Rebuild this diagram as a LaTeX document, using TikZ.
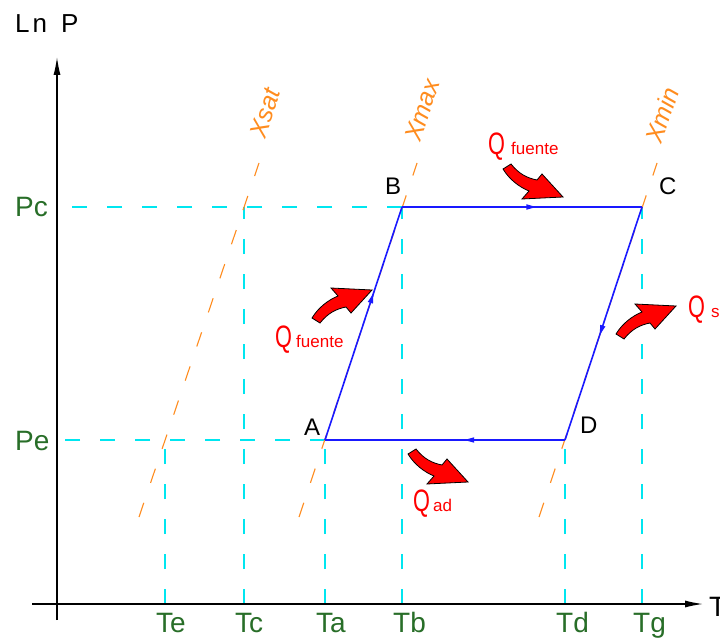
\documentclass[tikz,border=0pt]{standalone}
\usepackage{fontspec}
\setmainfont{Liberation Sans}
\newfontfamily\cadspaced[LetterSpace=12]{Liberation Sans}
\usetikzlibrary{arrows.meta,decorations.markings}
\definecolor{cadgreen}{RGB}{40,110,40}
\definecolor{cadcyan}{RGB}{0,230,240}
\definecolor{cadorange}{RGB}{255,140,30}
\definecolor{cadblue}{RGB}{25,25,255}
\definecolor{cadred}{RGB}{255,0,0}
\newcommand\cadfs[1]{\fontsize{#1}{#1}\selectfont}
\tikzset{
  qarrow/.pic={
    \filldraw[fill=cadred,draw=black,line width=0.8pt]
      (-4,1) -- (4,-4) .. controls (12,6) and (20,10) .. (30,12)
      -- (35,6) -- (56,29) -- (15,31) -- (22,23)
      .. controls (12,19) and (2,11) .. (-4,1) -- cycle;
  }
}
\begin{document}
\begin{tikzpicture}[x=1pt,y=-1pt,
  guide/.style={cadcyan,line width=1.3pt,dash pattern=on 15pt off 20pt},
  quality/.style={cadorange,line width=1.1pt,dash pattern=on 15pt off 21pt},
  cycleline/.style={cadblue,line width=1.6pt},
  axisline/.style={black,line width=1.3pt,-{Latex[length=18pt,width=7pt]}},
  axlab/.style={text=cadgreen,font={\cadfs{28}},anchor=base west,inner sep=0pt},
  ptlab/.style={text=black,font={\cadfs{24}},anchor=base west,inner sep=0pt},
  xlab/.style={text=cadorange,font={\cadfs{25}\itshape},rotate=71.7,inner sep=0pt},
  qbig/.style={text=cadred,font={\cadfs{31}},anchor=base west,inner sep=0pt},
  qsmall/.style={text=cadred,font={\cadfs{17}},anchor=base west,inner sep=0pt},
  midarrow/.style={postaction={decorate},decoration={markings,
     mark=at position #1 with {\arrow{Triangle[length=10pt,width=5pt]}}}}
]
\clip (0,0) rectangle (720,639);
\fill[white] (0,0) rectangle (720,639);

% key coordinates
\coordinate (O) at (57,604);
\coordinate (Ytop) at (57,57);
\coordinate (Ybot) at (57,620);
\coordinate (Xleft) at (32,604);
\coordinate (Xright) at (703,604);
\coordinate (A) at (325,440);
\coordinate (B) at (402,207);
\coordinate (C) at (642,207);
\coordinate (D) at (565,440);
\coordinate (E) at (165,440);
\coordinate (F) at (244,207);
\coordinate (PeA) at (57,440);
\coordinate (PcA) at (57,207);
\coordinate (Te) at (165,604);
\coordinate (Tc) at (244,604);
\coordinate (Ta) at (325,604);
\coordinate (Tb) at (402,604);
\coordinate (Td) at (565,604);
\coordinate (Tg) at (642,604);
% quality line ends
\coordinate (s1) at (139,517);
\coordinate (s2) at (259,163);
\coordinate (m1) at (299,517);
\coordinate (m2) at (417,163);
\coordinate (n1) at (539,517);
\coordinate (n2) at (657,163);

% guide lines
\draw[guide] (A) -- (PeA);
\draw[guide] (B) -- (PcA);
\draw[guide] (Te) -- (E);
\draw[guide] (Tc) -- (F);
\draw[guide] (Ta) -- (A);
\draw[guide] (Tb) -- (B);
\draw[guide] (Td) -- (D);
\draw[guide] (Tg) -- (C);

% quality lines
\draw[quality] (s1) -- (s2);
\draw[quality] (m1) -- (m2);
\draw[quality] (n1) -- (n2);
\node[xlab] (xsat) at (265,113) {Xsat};
\node[xlab] (xmax) at (422,110) {Xmax};
\node[xlab] (xmin) at (662,115) {Xmin};

% axes
\draw[black,line width=1.3pt] (Ybot) -- (O);
\draw[axisline] (O) -- (Ytop);
\draw[axisline] (Xleft) -- (Xright);
\node[text=black,font={\cadspaced\cadfs{26}},anchor=base west,inner sep=0pt] (lnp) at (15,33) {Ln\hspace{14pt}P};
\node[text=black,font={\cadfs{28}},anchor=base west,inner sep=0pt] (tax) at (709,616) {T};

% axis labels
\node[axlab] (pc) at (15,217) {Pc};
\node[axlab] (pe) at (15,450) {Pe};
\node[axlab] (lte) at (156,632) {Te};
\node[axlab] (ltc) at (235,632) {Tc};
\node[axlab] (lta) at (316,632) {Ta};
\node[axlab] (ltb) at (393,632) {Tb};
\node[axlab] (ltd) at (556,632) {Td};
\node[axlab] (ltg) at (633,632) {Tg};

% cycle
\draw[cycleline,midarrow=0.63] (A) -- (B);
\draw[cycleline,midarrow=0.56] (B) -- (C);
\draw[cycleline,midarrow=0.55] (C) -- (D);
\draw[cycleline,midarrow=0.42] (D) -- (A);

\node[ptlab] (la) at (304,435) {A};
\node[ptlab] (lb) at (385,195) {B};
\node[ptlab] (lc) at (659,195) {C};
\node[ptlab] (ld) at (580,433) {D};

% heat arrows
\pic at (507,168) {qarrow};
\pic at (412,453) {qarrow};
\pic[yscale=-1] at (316,319) {qarrow};
\pic[yscale=-1] at (620,335) {qarrow};

% heat labels
\node[qbig] (q1) at (488,155) {\scalebox{0.7}[1]{Q}};
\node[qsmall] (q1s) at (511,155) {fuente};
\node[qbig] (q2) at (275,347) {\scalebox{0.7}[1]{Q}};
\node[qsmall] (q2s) at (296,347) {fuente};
\node[qbig] (q3) at (688,317) {\scalebox{0.7}[1]{Q}};
\node[qsmall] (q3s) at (711,317) {s};
\node[qbig] (q4) at (413,511) {\scalebox{0.7}[1]{Q}};
\node[qsmall] (q4s) at (433,511) {ad};
\end{tikzpicture}
\end{document}
